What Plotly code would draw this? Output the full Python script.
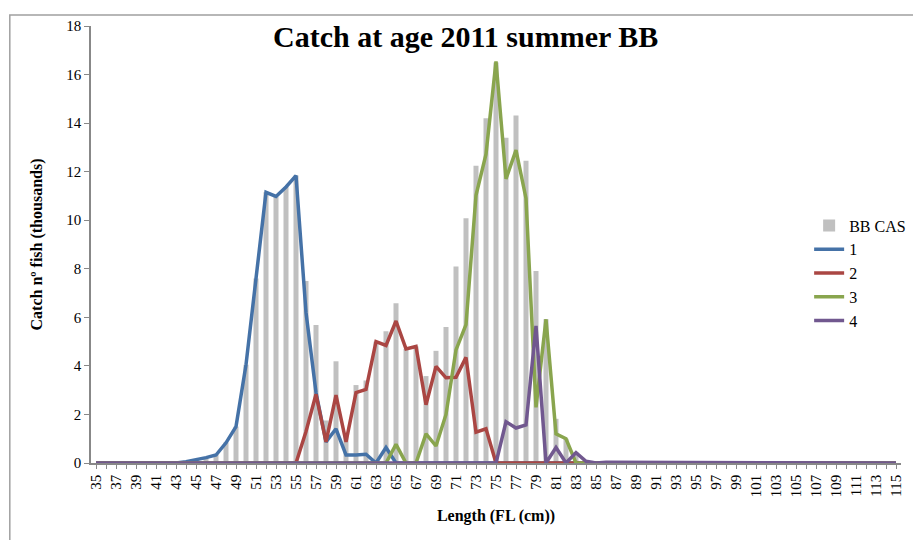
import plotly.graph_objects as go

lengths = list(range(35, 116))

bb_cas = [0]*9 + [0.05, 0.12, 0.22, 0.35, 0.85, 1.5, 4.05, 7.6, 11.15, 10.98, 11.37, 11.84,
          7.5, 5.68, 1.75, 4.19, 1.2, 3.21, 3.4, 5.0, 5.43, 6.58, 4.7, 4.8, 3.58, 4.62, 5.6,
          8.09, 10.08, 12.24, 14.2, 16.5, 13.4, 14.31, 12.45, 7.91, 5.92, 1.82, 1.0, 0.43, 0.07,
          0, 0.03, 0.03, 0.03] + [0]*27

age1 = [0]*9 + [0.05, 0.12, 0.22, 0.33, 0.83, 1.5, 4.05, 7.6, 11.15, 10.98, 11.37, 11.84,
        6.2, 2.9, 0.87, 1.41, 0.33, 0.33, 0.36, 0, 0.64] + [0]*50

age2 = [0]*21 + [1.3, 2.83, 0.87, 2.8, 0.87, 2.9, 3.03, 5.0, 4.84, 5.85, 4.7, 4.8, 2.4, 3.98,
        3.51, 3.53, 4.35, 1.27, 1.41] + [0]*41

age3 = [0]*30 + [0.77, 0, 0, 1.2, 0.7, 2.0, 4.66, 5.7, 11.03, 12.72, 16.54, 11.7, 12.89, 10.9,
        2.29, 5.92, 1.2, 1.0] + [0]*33

age4 = [0]*41 + [1.7, 1.44, 1.57, 5.65, 0, 0.64, 0, 0.43, 0.07, 0, 0.03, 0.03, 0.03] + [0]*27

tick_vals = lengths
tick_text = [str(v) if v % 2 == 1 else "" for v in lengths]

FONT = "Liberation Serif, Times New Roman, serif"

fig = go.Figure()
fig.add_trace(go.Bar(x=lengths, y=bb_cas, name="BB CAS", marker_color="#C0C0C0",
                     marker_line_width=0, legendgroup="a"))
colors = ["#4572A7", "#AA4643", "#89A54E", "#71588F"]
for i, (nm, ys) in enumerate(zip(["1", "2", "3", "4"], [age1, age2, age3, age4])):
    fig.add_trace(go.Scatter(x=lengths, y=ys, name=nm, mode="lines",
                             line=dict(color=colors[i], width=3.5), legendgroup=nm))

OFF = 8  # page body margin
W, H = 921 - OFF, 540 - OFF
L, T = 91 - OFF, 20 - OFF
B = H - (463 - OFF)
R = W - (911 - OFF)
pw, ph = W - L - R, H - T - B

def px2x(p):
    return (p - OFF - L) / pw

def py2y(p):
    return (H - B - (p - OFF)) / ph

fig.update_layout(
    width=W, height=H,
    margin=dict(l=L, r=R, t=T, b=B),
    paper_bgcolor="white", plot_bgcolor="white",
    bargap=0.5,
    showlegend=True,
    font=dict(family=FONT, color="black"),
    legend=dict(x=px2x(818), y=py2y(205), xanchor="left", yanchor="top",
                font=dict(size=16, family=FONT), tracegroupgap=3,
                bgcolor="rgba(0,0,0,0)", itemwidth=30, traceorder="normal"),
    xaxis=dict(range=[34.5, 115.5], tickmode="array", tickvals=tick_vals, ticktext=tick_text,
               tickangle=-90, tickfont=dict(size=15, family=FONT), ticks="outside", ticklen=4,
               tickcolor="#888888", showline=True, linecolor="#888888", linewidth=1.5,
               showgrid=False, zeroline=False,
               title=dict(text="<b>Length (FL (cm))</b>", font=dict(size=16, family=FONT), standoff=14)),
    yaxis=dict(range=[0, 18], dtick=2, tickfont=dict(size=15, family=FONT), ticks="outside",
               ticklen=5, tickcolor="#888888", showline=True, linecolor="#888888", linewidth=1.5,
               showgrid=False, zeroline=False,
               title=dict(text="<b>Catch nº fish (thousands)</b>", font=dict(size=16, family=FONT), standoff=20)),
    annotations=[dict(text="<b>Catch at age 2011 summer BB</b>", xref="paper", yref="paper",
                      x=px2x(470), y=py2y(31), xanchor="center", yanchor="middle", showarrow=False,
                      font=dict(size=30, family=FONT, color="black"))],
    shapes=[dict(type="rect", xref="paper", yref="paper", x0=px2x(OFF + 0.8), y0=py2y(560),
                 x1=px2x(940), y1=py2y(OFF + 0.8), line=dict(color="#A0A0A0", width=1.5),
                 layer="below")],
)

fig.write_html("out.html")
